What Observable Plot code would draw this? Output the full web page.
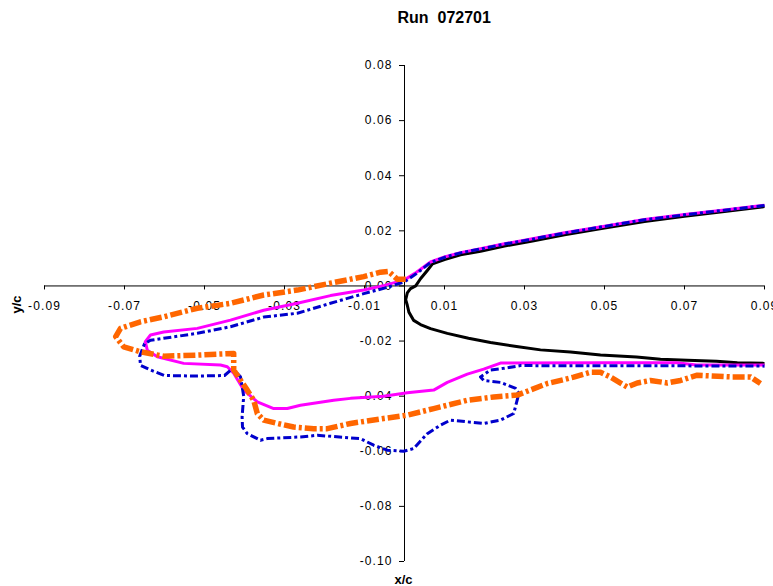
<!DOCTYPE html>
<html>
<head>
<meta charset="utf-8">
<script src="https://cdn.jsdelivr.net/npm/d3@7"></script>
<script src="https://cdn.jsdelivr.net/npm/@observablehq/plot@0.6"></script>
<style>
  html, body { margin: 0; padding: 0; background: #fff; }
  #chart svg { display: block; }
  #chart svg .ticklabel text { letter-spacing: 1.1px; }
</style>
</head>
<body>
<div id="chart"></div>
<script>
// Labels and tick values
const titleText = "Run\u00a0 072701";
const xLabel = "x/c";
const yLabel = "y/c";
const xTicks = [-0.09, -0.07, -0.05, -0.03, -0.01, 0.01, 0.03, 0.05, 0.07, 0.09];
const yTicks = [-0.10, -0.08, -0.06, -0.04, -0.02, 0.00, 0.02, 0.04, 0.06, 0.08];

// Clean leading-edge contour (upper surface -> nose -> lower surface)
const blackPts = [
  [0.090, 0.0288], [0.080, 0.0270], [0.070, 0.0253], [0.060, 0.0234], [0.050, 0.0210],
  [0.040, 0.0186], [0.032, 0.0163], [0.025, 0.0145], [0.019, 0.0126], [0.014, 0.0113],
  [0.010, 0.0096], [0.007, 0.0080], [0.0057, 0.0056], [0.004, 0.0026], [0.0028, 0.0000],
  [0.0015, -0.0010], [0.0007, -0.0025], [0.0003, -0.0050], [0.0007, -0.0070],
  [0.0011, -0.0095], [0.0023, -0.0125], [0.0040, -0.0140], [0.0065, -0.0155],
  [0.0107, -0.0172], [0.0160, -0.0190], [0.0215, -0.0205], [0.0280, -0.0220],
  [0.0340, -0.0232], [0.0415, -0.0240], [0.0490, -0.0251], [0.0580, -0.0258],
  [0.0640, -0.0266], [0.0707, -0.0270], [0.0780, -0.0273], [0.0832, -0.0279], [0.0900, -0.0281]
];

// Ice shape, magenta trace
const magentaPts = [
  [0.090, 0.0293], [0.080, 0.0276], [0.070, 0.0259], [0.060, 0.0241], [0.050, 0.0217],
  [0.040, 0.0193], [0.032, 0.0171], [0.025, 0.0153], [0.019, 0.0135], [0.014, 0.0121],
  [0.010, 0.0105], [0.0065, 0.0087], [0.003, 0.0050], [0.000, 0.0022], [-0.005, 0.0002],
  [-0.0102, -0.0015], [-0.0185, -0.0035], [-0.0268, -0.0063], [-0.0352, -0.0088],
  [-0.0435, -0.0124], [-0.0518, -0.0154], [-0.0602, -0.0167], [-0.0635, -0.0178],
  [-0.0648, -0.0202], [-0.0643, -0.0233], [-0.0618, -0.0257], [-0.0552, -0.0281],
  [-0.0460, -0.0287], [-0.0443, -0.0293], [-0.0427, -0.0317], [-0.0402, -0.0378],
  [-0.0368, -0.0421], [-0.0327, -0.0445], [-0.0293, -0.0445], [-0.0260, -0.0433],
  [-0.0177, -0.0415], [-0.0135, -0.0408], [-0.0052, -0.0400], [0.0007, -0.0388],
  [0.0073, -0.0378], [0.0107, -0.0350], [0.0157, -0.0320], [0.0198, -0.0302],
  [0.0240, -0.0280], [0.0500, -0.0279], [0.0680, -0.0279], [0.0730, -0.0287], [0.0900, -0.0287]
];

// Ice shape, blue trace
const bluePts = [
  [0.090, 0.0292], [0.080, 0.0275], [0.070, 0.0258], [0.060, 0.0240], [0.050, 0.0216],
  [0.040, 0.0192], [0.032, 0.0170], [0.025, 0.0152], [0.019, 0.0134], [0.014, 0.0120],
  [0.010, 0.0104], [0.0065, 0.0085], [0.003, 0.0045], [0.000, 0.0015], [-0.005, -0.0008],
  [-0.0102, -0.0028], [-0.0185, -0.0063], [-0.0268, -0.0099], [-0.0352, -0.0113],
  [-0.0435, -0.0148], [-0.0518, -0.0172], [-0.0602, -0.0190], [-0.0635, -0.0197],
  [-0.0650, -0.0210], [-0.0662, -0.0255], [-0.0660, -0.0288], [-0.0635, -0.0305],
  [-0.0600, -0.0325], [-0.0520, -0.0327], [-0.0450, -0.0325], [-0.0430, -0.0300],
  [-0.0410, -0.0330], [-0.0402, -0.0400], [-0.0406, -0.0475], [-0.0405, -0.0512],
  [-0.0393, -0.0536], [-0.0360, -0.0560], [-0.0343, -0.0554], [-0.0260, -0.0548],
  [-0.0218, -0.0542], [-0.0110, -0.0554], [-0.0077, -0.0578], [-0.0043, -0.0596],
  [-0.0002, -0.0600], [0.0023, -0.0590], [0.0057, -0.0536], [0.0090, -0.0505],
  [0.0115, -0.0487], [0.0198, -0.0499], [0.0240, -0.0487], [0.0273, -0.0463],
  [0.0286, -0.0390], [0.0278, -0.0372], [0.0240, -0.0350], [0.0198, -0.0343],
  [0.0190, -0.0330], [0.0215, -0.0305], [0.0248, -0.0299], [0.0290, -0.0289],
  [0.0500, -0.0290], [0.0700, -0.0290], [0.0900, -0.0291]
];

// Ice shape, orange trace
const orangePts = [
  [0.0003, 0.0024], [-0.0018, 0.0024], [-0.0027, 0.0036], [-0.0040, 0.0053],
  [-0.0060, 0.0050], [-0.0102, 0.0034], [-0.0185, 0.0010], [-0.0268, -0.0015],
  [-0.0352, -0.0033], [-0.0435, -0.0063], [-0.0518, -0.0081], [-0.0602, -0.0112],
  [-0.0660, -0.0130], [-0.0710, -0.0154], [-0.0722, -0.0184], [-0.0702, -0.0221],
  [-0.0660, -0.0239], [-0.0602, -0.0255], [-0.0518, -0.0251], [-0.0427, -0.0245],
  [-0.0427, -0.0305], [-0.0410, -0.0342], [-0.0393, -0.0378], [-0.0377, -0.0415],
  [-0.0368, -0.0463], [-0.0352, -0.0487], [-0.0318, -0.0499], [-0.0277, -0.0512],
  [-0.0227, -0.0518], [-0.0193, -0.0518], [-0.0135, -0.0499], [-0.0052, -0.0481],
  [0.0007, -0.0469], [0.0073, -0.0445], [0.0157, -0.0415], [0.0223, -0.0403],
  [0.0282, -0.0396], [0.0357, -0.0354], [0.0398, -0.0340], [0.0423, -0.0331],
  [0.0465, -0.0313], [0.0490, -0.0313], [0.0515, -0.0331], [0.0557, -0.0367],
  [0.0582, -0.0352], [0.0615, -0.0343], [0.0657, -0.0352], [0.0690, -0.0343],
  [0.0732, -0.0324], [0.0815, -0.0330], [0.0865, -0.0330], [0.0890, -0.0354]
];

// Drawing order and line styles
const traces = [
  {pts: blackPts,   stroke: "#000000", width: 3,   dash: null},
  {pts: magentaPts, stroke: "#FF00FF", width: 3,   dash: null},
  {pts: bluePts,    stroke: "#0000CC", width: 3,   dash: "8,3,3,3"},
  {pts: orangePts,  stroke: "#FF6600", width: 5.5, dash: "12,3,3,3"}
];

const fmt = d => d.toFixed(2);

const marks = [
  // axes crossing at the origin
  Plot.ruleY([0], {stroke: "#000", strokeWidth: 1}),
  Plot.ruleX([0], {stroke: "#000", strokeWidth: 1}),
  // tick marks
  Plot.ruleX(xTicks, {x: d => d, y1: 0, y2: 0, insetTop: 0, insetBottom: -4, stroke: "#000"}),
  Plot.ruleY(yTicks, {y: d => d, x1: 0, x2: 0, insetLeft: -5, insetRight: 0, stroke: "#000"}),
  // tick labels
  Plot.text(xTicks, {x: d => d, y: 0, text: fmt, dy: 20, fontSize: 12, fill: "#000", className: "ticklabel"}),
  Plot.text(yTicks, {x: 0, y: d => d, text: fmt, textAnchor: "end", dx: -12, fontSize: 12, fill: "#000", className: "ticklabel"}),
  // traces
  ...traces.map(t => Plot.line(t.pts, {
    x: d => d[0], y: d => d[1], stroke: t.stroke, strokeWidth: t.width,
    strokeDasharray: t.dash, strokeLinecap: "butt", strokeLinejoin: "round", curve: "linear"
  })),
  // title and axis titles
  Plot.text([titleText], {frameAnchor: "top-left", textAnchor: "start", lineAnchor: "middle",
    dx: 353, dy: -48, fontSize: 16, fontWeight: "bold", fill: "#000"}),
  Plot.text([xLabel], {frameAnchor: "bottom", textAnchor: "middle", lineAnchor: "middle",
    dx: -1, dy: 18, fontSize: 13, fontWeight: "bold", fill: "#000"}),
  Plot.text([yLabel], {frameAnchor: "left", textAnchor: "middle", lineAnchor: "middle",
    dx: -27.5, dy: -9, rotate: -90, fontSize: 13, fontWeight: "bold", fill: "#000"})
];

const chart = Plot.plot({
  width: 773,
  height: 586,
  marginLeft: 44,
  marginRight: 9,
  marginTop: 65,
  marginBottom: 25,
  x: {domain: [-0.09, 0.09], axis: null},
  y: {domain: [-0.10, 0.08], axis: null},
  style: {fontFamily: "'Liberation Sans', Arial, sans-serif", background: "#fff", overflow: "visible"},
  marks
});
document.getElementById("chart").appendChild(chart);
</script>
</body>
</html>
